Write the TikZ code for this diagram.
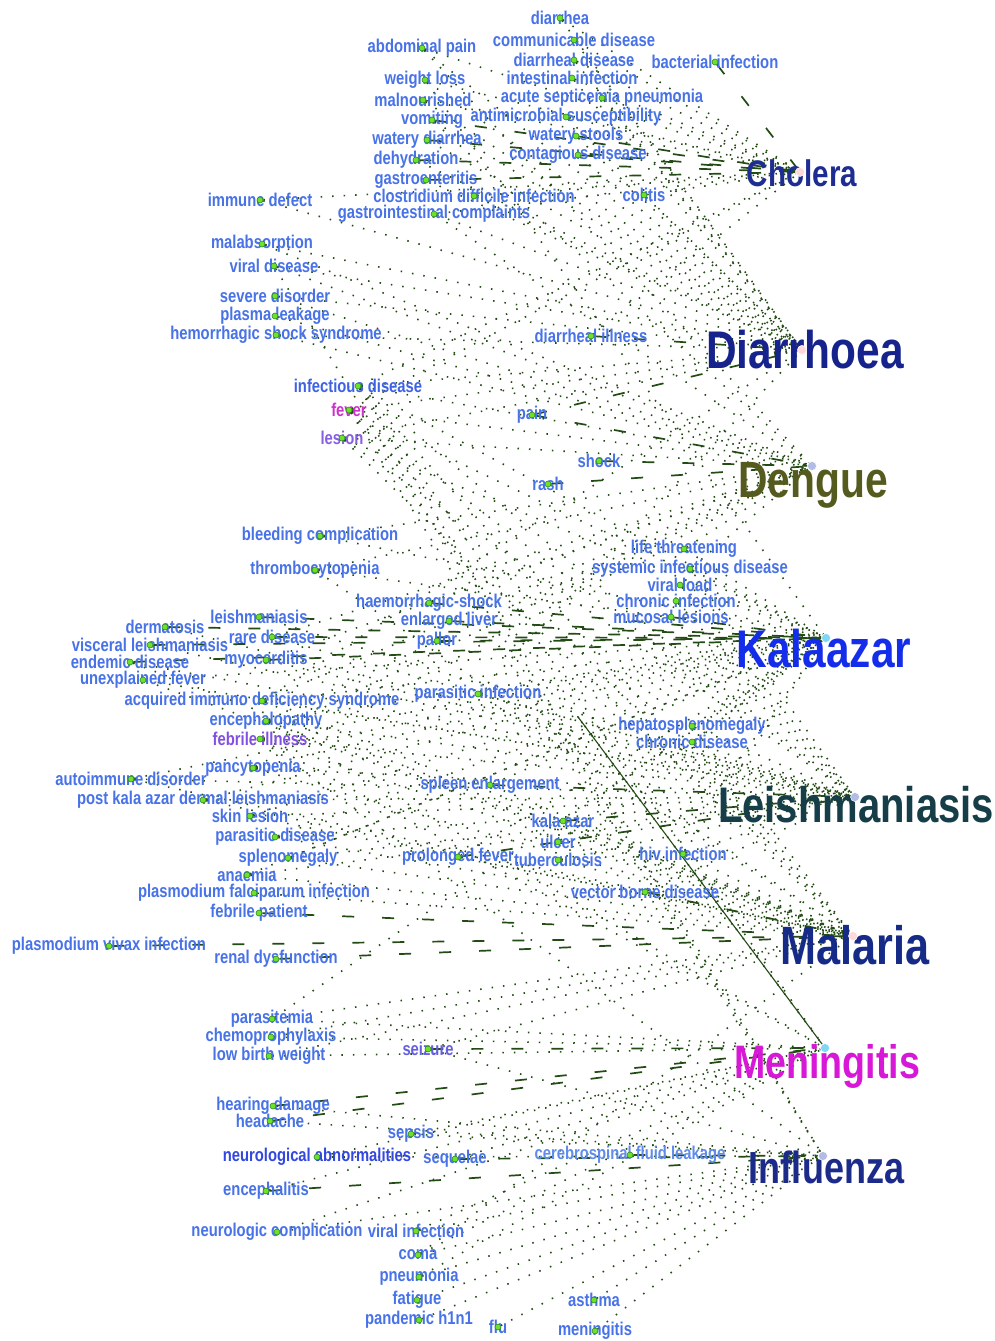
\documentclass[tikz,border=0pt]{standalone}
\usepackage{fontspec}
\newfontfamily\nf[FakeStretch=0.8]{Liberation Sans}
\usetikzlibrary{backgrounds,calc}
\definecolor{lb}{RGB}{72,114,232}
\definecolor{lbdark}{RGB}{50,72,225}
\definecolor{lbinf}{RGB}{62,98,230}
\definecolor{lbsei}{RGB}{102,96,225}
\definecolor{lbfev}{RGB}{205,50,205}
\definecolor{lbles}{RGB}{135,95,225}
\definecolor{lbfil}{RGB}{130,80,225}
\definecolor{lbcsf}{RGB}{95,140,236}
\definecolor{ccho}{RGB}{30,45,145}
\definecolor{cdia}{RGB}{22,35,140}
\definecolor{cden}{RGB}{85,90,30}
\definecolor{ckal}{RGB}{20,45,235}
\definecolor{clei}{RGB}{22,62,72}
\definecolor{cmal}{RGB}{22,42,135}
\definecolor{cmen}{RGB}{215,25,215}
\definecolor{cinf}{RGB}{28,42,138}
\definecolor{edgec}{RGB}{35,75,20}
\definecolor{gdot}{RGB}{110,225,40}
\definecolor{gdotb}{RGB}{40,140,30}
\newcommand\sym[5][lb]{\node[lab,text=#1] (#2-t) at (#3,#4) {#5};\node[sdot] (#2) at (#3,#4) {};}
\newcommand\dis[8]{\node[dlab=#7,text=#8] (#1-t) at (#4,#5) {#6};\node[ddot,fill=#3] (#1) at (#2) {};}
\begin{document}
\begin{tikzpicture}[x=1pt,y=-1pt,
  lab/.style={font=\nf\bfseries\fontsize{18.5}{18.5}\selectfont,inner sep=0pt},
  dlab/.style={font=\nf\bfseries\fontsize{#1}{#1}\selectfont,inner sep=0pt,anchor=base},
  sdot/.style={circle,fill=gdot,draw=gdotb,line width=0.6pt,minimum size=6pt,inner sep=0pt},
  ddot/.style={circle,draw=white,line width=0.5pt,minimum size=9pt,inner sep=0pt},
  ed/.style={draw=edgec,line width=1.6pt,dash pattern=on 1.5pt off 10pt},
  eh/.style={draw=edgec,line width=1.7pt,dash pattern=on 12pt off 28pt},
  sl/.style={draw=edgec,line width=1.1pt}]
\useasboundingbox (0,0) rectangle (994,1341);
% ---------- symptom nodes ----------
\sym{dia}{560}{18}{diarrhea}
\sym{com}{574}{40}{communicable disease}
\sym{abd}{422}{48}{abdominal pain}
\sym{dds}{574}{60}{diarrheal disease}
\sym{bac}{715}{62}{bacterial infection}
\sym{wls}{425}{80}{weight loss}
\sym{int}{572}{78}{intestinal infection}
\sym{mal}{423}{100}{malnourished}
\sym{asp}{602}{98}{acute septicemia pneumonia}
\sym{vom}{432}{120}{vomiting}
\sym{ams}{566}{117}{antimicrobial susceptibility}
\sym{wdi}{427}{140}{watery diarrhea}
\sym{wst}{576}{136}{watery stools}
\sym{deh}{416}{160}{dehydration}
\sym{con}{578}{155}{contagious disease}
\sym{gas}{426}{180}{gastroenteritis}
\sym{clo}{474}{196}{clostridium difficile infection}
\sym{col}{644}{195}{colitis}
\sym{imm}{260}{200}{immune defect}
\sym{gic}{434}{214}{gastrointestinal complaints}
\sym{mab}{262}{244}{malabsorption}
\sym{vdi}{274}{266}{viral disease}
\sym{sev}{275}{296}{severe disorder}
\sym{pla}{275}{316}{plasma leakage}
\sym{hss}{276}{335}{hemorrhagic shock syndrome}
\sym{dil}{591}{336}{diarrheal illness}
\sym[lbinf]{inf}{358}{386}{infectious disease}
\sym[lbfev]{fev}{349}{410}{fever}
\sym[lbles]{les}{342}{438}{lesion}
\sym{pai}{532}{415}{pain}
\sym{sho}{599}{461}{shock}
\sym{ras}{548}{484}{rash}
\sym{ble}{320}{536}{bleeding complication}
\sym{thr}{315}{570}{thrombocytopenia}
\sym{lif}{684}{549}{life threatening}
\sym{sys}{690}{569}{systemic infectious disease}
\sym{vlo}{680}{585}{viral load}
\sym{hae}{429}{603}{haemorrhagic-shock}
\sym{chi}{676}{601}{chronic infection}
\sym{lei}{259}{617}{leishmaniasis}
\sym{enl}{449}{621}{enlarged liver}
\sym{muc}{671}{617}{mucosal lesions}
\sym{der}{165}{627}{dermatosis}
\sym{rar}{272}{637}{rare disease}
\sym{pal}{437}{641}{pallor}
\sym{vis}{150}{645}{visceral leishmaniasis}
\sym{end}{130}{662}{endemic disease}
\sym{myo}{266}{660}{myocarditis}
\sym{une}{143}{680}{unexplained fever}
\sym{aid}{262}{701}{acquired immuno deficiency syndrome}
\sym{pin}{478}{694}{parasitic infection}
\sym{enc}{266}{721}{encephalopathy}
\sym{hep}{692}{726}{hepatosplenomegaly}
\sym[lbfil]{fil}{260}{739}{febrile illness}
\sym{chd}{692}{742}{chronic disease}
\sym{pan}{253}{768}{pancytopenia}
\sym{aut}{131}{779}{autoimmune disorder}
\sym{pkd}{203}{800}{post kala azar dermal leishmaniasis}
\sym{spe}{490}{785}{spleen enlargement}
\sym{skl}{250}{816}{skin lesion}
\sym{kaz}{563}{821}{kala azar}
\sym{pdi}{275}{837}{parasitic disease}
\sym{ulc}{558}{842}{ulcer}
\sym{pfe}{458}{857}{prolonged fever}
\sym{tub}{558}{860}{tuberculosis}
\sym{hiv}{683}{854}{hiv infection}
\sym{spl}{288}{858}{splenomegaly}
\sym{ana}{247}{875}{anaemia}
\sym{pfa}{254}{893}{plasmodium falciparum infection}
\sym{vbd}{645}{892}{vector borne disease}
\sym{fpa}{259}{913}{febrile patient}
\sym{pvi}{109}{946}{plasmodium vivax infection}
\sym{ren}{276}{959}{renal dysfunction}
\sym{ptm}{272}{1019}{parasitemia}
\sym{che}{271}{1037}{chemoprophylaxis}
\sym{lbw}{269}{1056}{low birth weight}
\sym[lbsei]{sei}{428}{1049}{seizure}
\sym{hea}{273}{1106}{hearing damage}
\sym{hdc}{270}{1121}{headache}
\sym{sep}{411}{1134}{sepsis}
\sym[lbdark]{nab}{317}{1157}{neurological abnormalities}
\sym{seq}{455}{1159}{sequelae}
\sym[lbcsf]{csf}{630}{1155}{cerebrospinal fluid leakage}
\sym{ecp}{266}{1191}{encephalitis}
\sym{nco}{277}{1232}{neurologic complication}
\sym{vin}{416}{1231}{viral infection}
\sym{cma}{418}{1255}{coma}
\sym{pne}{419}{1277}{pneumonia}
\sym{fat}{417}{1300}{fatigue}
\sym{h1n}{419}{1320}{pandemic h1n1}
\sym{flu}{498}{1327}{flu}
\sym{ast}{594}{1300}{asthma}
\sym{men}{595}{1331}{meningitis}
% ---------- disease nodes ----------
\dis{dCho}{800,172}{pink!60}{802}{186}{Cholera}{37}{ccho}
\dis{dDia}{802,350}{pink!60}{805}{368}{Diarrhoea}{53}{cdia}
\dis{dDen}{812,466}{cyan!35!blue!30}{813}{497}{Dengue}{51}{cden}
\dis{dKal}{826,638}{cyan!50}{824}{667}{Kalaazar}{53}{ckal}
\dis{dLei}{855,797}{cyan!35!blue!30}{856}{822}{Leishmaniasis}{50}{clei}
\dis{dMal}{853,936}{pink!60}{855}{964}{Malaria}{54}{cmal}
\dis{dMen}{825,1048}{cyan!50}{827}{1078}{Meningitis}{47}{cmen}
\dis{dInf}{823,1156}{cyan!35!blue!30}{826}{1183}{Influenza}{45}{cinf}
% ---------- connectors ----------
\begin{pgfonlayer}{background}
\fill[white] (0,0) rectangle (994,1341);
\foreach \s in {dia,com,dds,int,asp,ams,abd,wls,mal,clo,gic,col,inf,fev,imm,dil}
  \draw[ed] (\s) -- (dCho);
\foreach \s in {bac,wst,con,wdi,deh,gas,vom}
  \draw[eh] (\s) -- (dCho);
\foreach \s in {dia,com,dds,int,asp,ams,wst,con,abd,wls,mal,vom,wdi,deh,gas,clo,gic,col,imm,mab,vdi,sev,hss,inf,fev,aid,pin,les}
  \draw[ed] (\s) -- (dDia);
\foreach \s in {dil,pai}
  \draw[eh] (\s) -- (dDia);
\foreach \s in {vdi,sev,pla,hss,mab,inf,fev,les,ble,thr,hae,lif,sys,vom,abd,fil,enc,myo,aid,rar,pan,gic}
  \draw[ed] (\s) -- (dDen);
\foreach \s in {pai,sho,ras}
  \draw[eh] (\s) -- (dDen);
\foreach \s in {lif,sys,vlo,chi,hep,chd,pin,aid,fev,les,fil,pan,pkd,spl,ana,kaz,hiv,pfe,spe,wls,inf,skl,tub,pdi,ulc,une,thr,ble,enc,aut,vbd,ptm}
  \draw[ed] (\s) -- (dKal);
\foreach \s in {lei,der,vis,rar,myo,enl,pal,hae,muc,end}
  \draw[eh] (\s) -- (dKal);
\foreach \s in {lei,der,vis,skl,les,ulc,aut,pkd,pdi,hiv,vbd,chd,muc,tub,hep,inf,fev,chi,sys,pan,spl,end,rar,pin,fil,enc,aid,une,myo,ana,vlo}
  \draw[ed] (\s) -- (dLei);
\foreach \s in {spe,kaz,pfe}
  \draw[eh] (\s) -- (dLei);
\foreach \s in {fev,fil,pfa,ana,spl,pdi,enc,pan,thr,inf,hep,pin,tub,hiv,kaz,ulc,aid,une,end,ptm,che,lbw,cma,pfe,spe,aut,pkd,skl,sei,les,chd}
  \draw[ed] (\s) -- (dMal);
\foreach \s in {pvi,ren,fpa,vbd}
  \draw[eh] (\s) -- (dMal);
\foreach \s in {fev,sep,nab,seq,ecp,cma,vin,nco,fil,enc,inf,lbw,che,ptm,pne}
  \draw[ed] (\s) -- (dMen);
\draw[sl] ($(fev)!0.48!(dMen)$) -- (dMen);
\foreach \s in {sei,hea,hdc}
  \draw[eh] (\s) -- (dMen);
\foreach \s in {vin,nco,cma,pne,fat,h1n,flu,ast,men,sei,hea,hdc,nab,sep,fev,vdi,inf,fil}
  \draw[ed] (\s) -- (dInf);
\foreach \s in {ecp,csf,seq}
  \draw[eh] (\s) -- (dInf);
\end{pgfonlayer}
\end{tikzpicture}
\end{document}
